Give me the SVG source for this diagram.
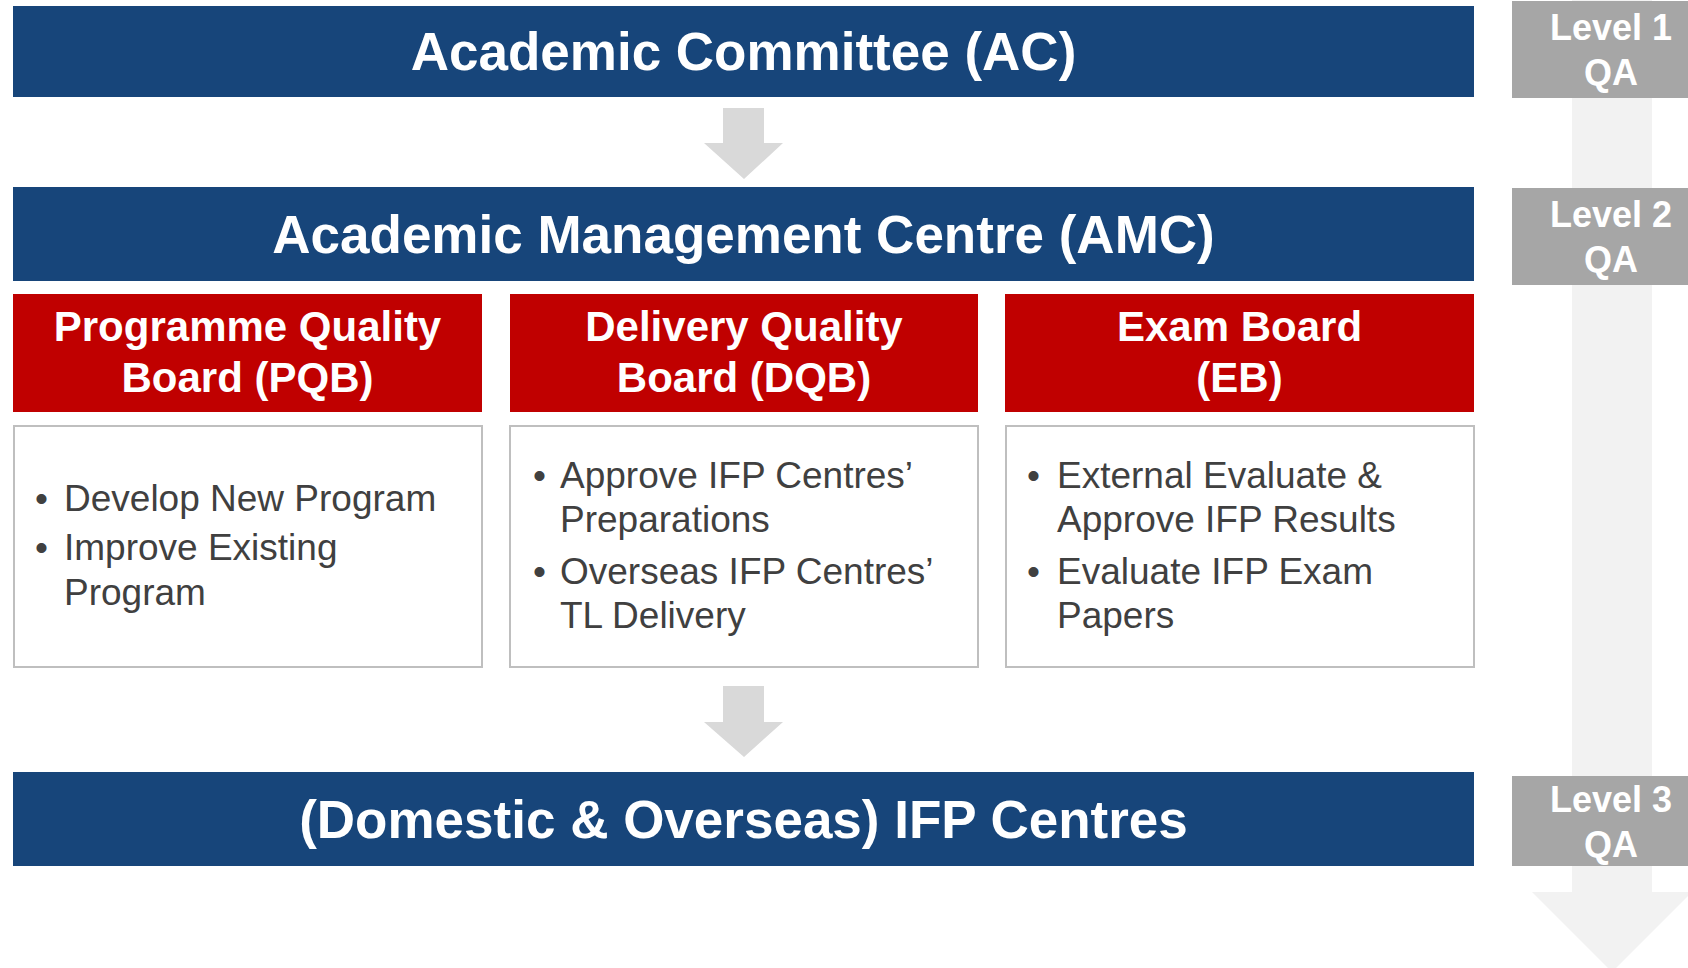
<svg xmlns="http://www.w3.org/2000/svg" width="1688" height="968" viewBox="0 0 1688 968">
<style>
.bar{fill:#17457A}
.red{fill:#C00000}
.box{fill:#FFFFFF;stroke:#BFBFBF;stroke-width:2}
.lvl{fill:#A6A6A6}
.arr{fill:#D9D9D9}
.t1{font-family:"Liberation Sans",Arial,sans-serif;font-weight:bold;font-size:53px;fill:#FFFFFF;text-anchor:middle}
.t2{font-family:"Liberation Sans",Arial,sans-serif;font-weight:bold;font-size:42px;fill:#FFFFFF;text-anchor:middle}
.t3{font-family:"Liberation Sans",Arial,sans-serif;font-size:37px;fill:#404040}
.t4{font-family:"Liberation Sans",Arial,sans-serif;font-weight:bold;font-size:36px;fill:#FFFFFF;text-anchor:middle}
</style>
<rect width="1688" height="968" fill="#FFFFFF"/>
<g id="qa-arrow">
<rect x="1572" y="0" width="80" height="893" fill="#F2F2F2"/>
<polygon points="1532,892 1692,892 1612,972" fill="#F2F2F2"/>
</g>
<g id="connectors">
<polygon class="arr" points="723,108 764,108 764,143 783,143 744,179 704,143 723,143"/>
<polygon class="arr" points="723,686 764,686 764,722 783,722 744,757 704,722 723,722"/>
</g>
<g id="ac">
<rect class="bar" x="13" y="6" width="1461" height="91"/>
<text class="t1" x="743.5" y="70">Academic Committee (AC)</text>
</g>
<g id="amc">
<rect class="bar" x="13" y="187" width="1461" height="94"/>
<text class="t1" x="743.5" y="253">Academic Management Centre (AMC)</text>
</g>
<g id="pqb">
<rect class="red" x="13" y="294" width="469" height="118"/>
<text class="t2" x="247.5" y="341">Programme Quality</text>
<text class="t2" x="247.5" y="392">Board (PQB)</text>
</g>
<g id="pqb-tasks">
<rect class="box" x="14" y="426" width="468" height="241"/>
<text class="t3" x="35" y="511">•</text>
<text class="t3" x="64" y="511">Develop New Program</text>
<text class="t3" x="35" y="560">•</text>
<text class="t3" x="64" y="560">Improve Existing</text>
<text class="t3" x="64" y="605">Program</text>
</g>
<g id="dqb">
<rect class="red" x="510" y="294" width="468" height="118"/>
<text class="t2" x="744" y="341">Delivery Quality</text>
<text class="t2" x="744" y="392">Board (DQB)</text>
</g>
<g id="dqb-tasks">
<rect class="box" x="510" y="426" width="468" height="241"/>
<text class="t3" x="533" y="488">•</text>
<text class="t3" x="560" y="488">Approve IFP Centres’</text>
<text class="t3" x="560" y="532">Preparations</text>
<text class="t3" x="533" y="584">•</text>
<text class="t3" x="560" y="584">Overseas IFP Centres’</text>
<text class="t3" x="560" y="628">TL Delivery</text>
</g>
<g id="eb">
<rect class="red" x="1005" y="294" width="469" height="118"/>
<text class="t2" x="1239.5" y="341">Exam Board</text>
<text class="t2" x="1239.5" y="392">(EB)</text>
</g>
<g id="eb-tasks">
<rect class="box" x="1006" y="426" width="468" height="241"/>
<text class="t3" x="1027" y="488">•</text>
<text class="t3" x="1057" y="488">External Evaluate &amp;</text>
<text class="t3" x="1057" y="532">Approve IFP Results</text>
<text class="t3" x="1027" y="584">•</text>
<text class="t3" x="1057" y="584">Evaluate IFP Exam</text>
<text class="t3" x="1057" y="628">Papers</text>
</g>
<g id="ifp">
<rect class="bar" x="13" y="772" width="1461" height="94"/>
<text class="t1" x="743.5" y="838">(Domestic &amp; Overseas) IFP Centres</text>
</g>
<g id="level1">
<rect class="lvl" x="1512" y="1" width="200" height="97"/>
<text class="t4" x="1611" y="40">Level 1</text>
<text class="t4" x="1611" y="85">QA</text>
</g>
<g id="level2">
<rect class="lvl" x="1512" y="188" width="200" height="97"/>
<text class="t4" x="1611" y="227">Level 2</text>
<text class="t4" x="1611" y="272">QA</text>
</g>
<g id="level3">
<rect class="lvl" x="1512" y="776" width="200" height="90"/>
<text class="t4" x="1611" y="812">Level 3</text>
<text class="t4" x="1611" y="857">QA</text>
</g>
</svg>
